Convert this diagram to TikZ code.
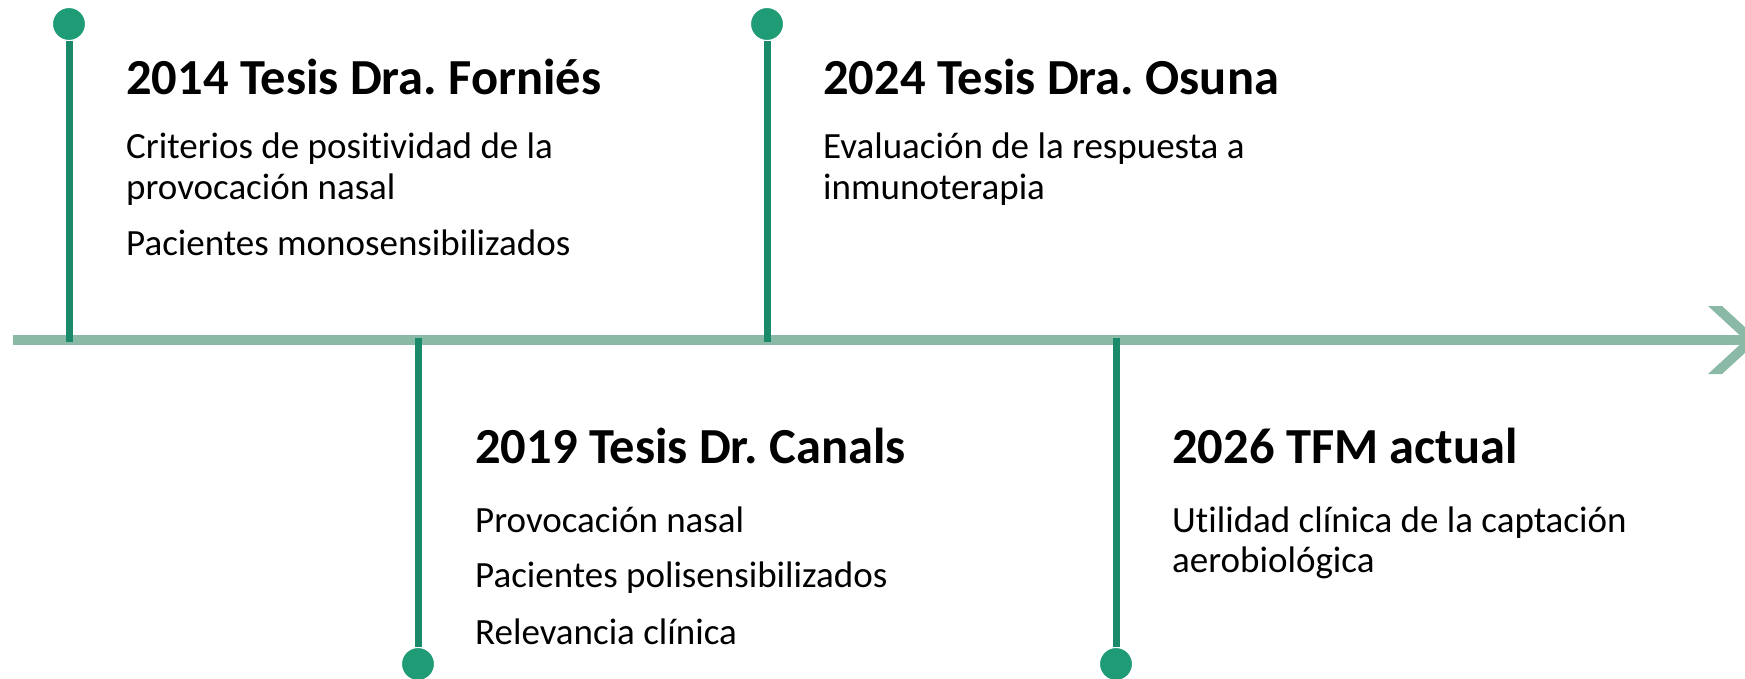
\documentclass[tikz,border=0pt]{standalone}
\usepackage{fontspec}
\setmainfont{Carlito}[Ligatures={NoCommon}]
\definecolor{axisgreen}{HTML}{8AB9A6}
\definecolor{stemgreen}{HTML}{1A8A6A}
\definecolor{dotgreen}{HTML}{1F9B76}
\frenchspacing
\begin{document}
\begin{tikzpicture}[x=1pt,y=-1pt,
  axisline/.style={draw=axisgreen,line width=10pt},
  stemline/.style={draw=stemgreen,line width=7pt},
  dot/.style={circle,fill=dotgreen,draw=white,line width=2pt,minimum size=34pt,inner sep=0pt,outer sep=0pt},
  ttl/.style={anchor=base west,inner sep=0pt,font=\fontsize{50.5}{60}\selectfont\bfseries},
  body/.style={anchor=base west,inner sep=0pt,font=\fontsize{37}{41}\selectfont}]
\useasboundingbox (0,0) rectangle (1745,678);
\clip (0,0) rectangle (1745,678);
% axis
\coordinate (axstart) at (13,340);
\coordinate (axend) at (1745,340);
\draw[axisline] (axstart) -- (axend);
\fill[axisgreen] (1708,306) -- (1722,306) -- (1759,340) -- (1722,374) -- (1708,374) -- (1745,340) -- cycle;
% dots
\node[dot] (d1) at (69,24) {};
\node[dot] (d2) at (418,664) {};
\node[dot] (d3) at (767,24) {};
\node[dot] (d4) at (1116,664) {};
\coordinate (a1) at (69,342);
\coordinate (a2) at (418,338);
\coordinate (a3) at (767,342);
\coordinate (a4) at (1116,338);
\draw[stemline] (d1.south) -- (a1);
\draw[stemline] (d2.north) -- (a2);
\draw[stemline] (d3.south) -- (a3);
\draw[stemline] (d4.north) -- (a4);
% texts 1
\node[ttl] (t1) at (126,94) {2014 Tesis Dra. Forniés};
\node[body] (t1a) at (126,158) {Criterios de positividad de la};
\node[body] (t1b) at (126,199) {provocación nasal};
\node[body] (t1c) at (126,255) {Pacientes monosensibilizados};
% texts 2
\node[ttl] (t2) at (475,463) {2019 Tesis Dr. Canals};
\node[body] (t2a) at (475,532) {Provocación nasal};
\node[body] (t2b) at (475,587) {Pacientes polisensibilizados};
\node[body] (t2c) at (475,644) {Relevancia clínica};
% texts 3
\node[ttl] (t3) at (823,94) {2024 Tesis Dra. Osuna};
\node[body] (t3a) at (823,158) {Evaluación de la respuesta a};
\node[body] (t3b) at (823,199) {inmunoterapia};
% texts 4
\node[ttl] (t4) at (1172,463) {2026 TFM actual};
\node[body] (t4a) at (1172,532) {Utilidad clínica de la captación};
\node[body] (t4b) at (1172,572) {aerobiológica};
\end{tikzpicture}
\end{document}
